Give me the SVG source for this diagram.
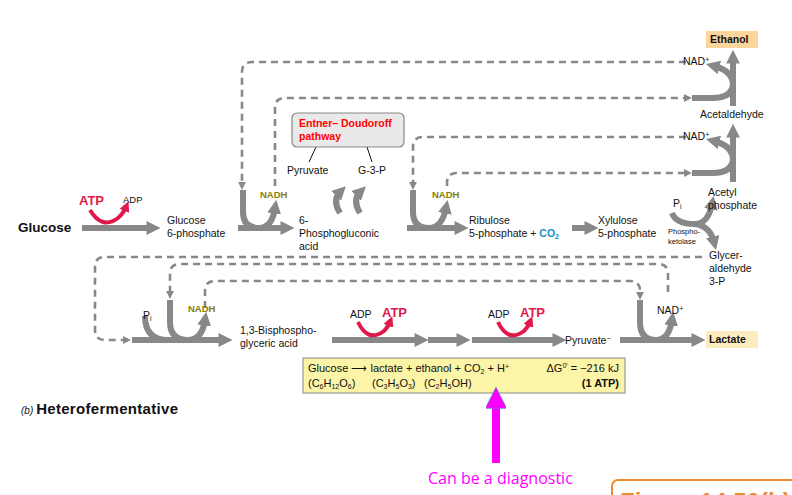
<svg xmlns="http://www.w3.org/2000/svg" width="792" height="495" viewBox="0 0 792 495">
<defs>
<marker id="ah" viewBox="0 0 10 10" refX="4" refY="5" markerWidth="2.3" markerHeight="2.3" orient="auto" markerUnits="strokeWidth"><path d="M0,0 L10,5 L0,10 z" fill="#888"/></marker>
<marker id="dh" viewBox="0 0 10 10" refX="5" refY="5" markerWidth="3" markerHeight="3" orient="auto" markerUnits="strokeWidth"><path d="M0,0 L10,5 L0,10 z" fill="#888"/></marker>
<marker id="rh" viewBox="0 0 10 10" refX="4" refY="5" markerWidth="2.6" markerHeight="2.6" orient="auto" markerUnits="strokeWidth"><path d="M0,0 L10,5 L0,10 z" fill="#e0194a"/></marker>
<marker id="mh" viewBox="0 0 10 10" refX="2" refY="5" markerWidth="3.3" markerHeight="2.6" orient="auto" markerUnits="strokeWidth"><path d="M0,0 L10,5 L0,10 z" fill="#f0f" stroke="#6a6ad8" stroke-width="0.4"/></marker>
</defs>
<style>
text{font-family:"Liberation Sans",Arial,sans-serif;font-size:10.5px;fill:#111}
.b{font-weight:bold}
.th{fill:none;stroke:#888;stroke-width:6;marker-end:url(#ah)}
.tn{fill:none;stroke:#888;stroke-width:6}
.da{fill:none;stroke:#888;stroke-width:2.6;stroke-dasharray:7,5;marker-end:url(#dh)}
.r{fill:none;stroke:#e0194a;stroke-width:4;marker-end:url(#rh)}
.nadh{fill:#8a7d00;font-weight:bold;font-size:9.5px}
.red{fill:#e0194a;font-weight:bold;font-size:13px}
.s{font-size:7px}
</style>
<rect width="792" height="495" fill="#fff"/>
<g id="connectors">
<path class="da" d="M686,62 H252 Q242,62 242,72 V186"/>
<path class="da" d="M275,186 V108 Q275,98 285,98 H688"/>
<path class="da" d="M686,137 H423 Q413,137 413,147 V186"/>
<path class="da" d="M447,186 V183 Q447,173 457,173 H688"/>
<path class="da" d="M702,257 H105 Q95,257 95,267 V330 Q95,340 105,340 H127"/>
<path class="da" d="M668,292 V274 Q668,264 658,264 H180 Q170,264 170,274 V295"/>
<path class="da" d="M205,308 V291 Q205,281 215,281 H630 Q640,281 640,291 V296"/>
<path class="th" d="M82,228 H152"/>
<path class="th" d="M238,228 H286"/>
<path class="th" d="M243,190 V212 Q243,228 259,228 Q272,228 275,208"/>
<path class="th" d="M407,228 H460"/>
<path class="th" d="M413,190 V212 Q413,228 429,228 Q442,228 446,208"/>
<path class="th" d="M572,228 H590"/>
<path class="tn" d="M672,213 Q676,224 695,224"/>
<path class="th" d="M695,224 Q708,224 712,204"/>
<path class="th" d="M695,224 Q710,226 714,242"/>
<path class="th" d="M340,213 Q332,200 340,192"/>
<path class="th" d="M360,213 Q352,200 360,192"/>
<path class="th" d="M733,182 V132"/>
<path class="tn" d="M692,173 H712 Q733,173 733,158"/>
<path class="th" d="M733,160 Q733,146 714,141"/>
<path class="th" d="M733,106 V58"/>
<path class="tn" d="M692,98 H712 Q733,98 733,83"/>
<path class="th" d="M733,85 Q733,71 714,66"/>
<path class="th" d="M132,340 H224"/>
<path class="tn" d="M145,316 Q145,340 168,340"/>
<path class="th" d="M170,300 V322 Q170,340 188,340 Q202,340 205,320"/>
<path class="th" d="M332,340 H420"/>
<path class="th" d="M428,340 H462"/>
<path class="th" d="M472,340 H558"/>
<path class="th" d="M620,340 H697"/>
<path class="th" d="M640,300 V322 Q640,340 656,340 Q669,340 672,320"/>
<path class="r" d="M90,210 Q102,230 118,218 Q123,214 126,207"/>
<path class="r" d="M358,322 Q368,343 384,331 Q388,327 390,322"/>
<path class="r" d="M498,322 Q508,343 524,331 Q528,327 530,322"/>
<path d="M316,147 L309,162 M367,147 L372,162" stroke="#111" stroke-width="1" fill="none"/>
</g>
<g id="ed"><rect x="292" y="113" width="112" height="34" rx="5" fill="#e9e9e9" stroke="#888" stroke-width="1.2"/>
<text x="299" y="127" class="b" style="fill:#f00">Entner– Doudoroff</text>
<text x="299" y="140" class="b" style="fill:#f00">pathway</text></g>
<g id="labels">
<text x="18" y="232" class="b" style="font-size:13.5px">Glucose</text>
<text x="79" y="205" class="red">ATP</text>
<text x="123" y="203" style="font-size:9.5px">ADP</text>
<text x="167" y="224">Glucose</text><text x="167" y="237">6-phosphate</text>
<text x="260" y="198" class="nadh">NADH</text>
<text x="299" y="224">6-</text><text x="299" y="237">Phosphogluconic</text><text x="299" y="250">acid</text>
<text x="287" y="174">Pyruvate</text>
<text x="358" y="174">G-3-P</text>
<text x="432" y="198" class="nadh">NADH</text>
<text x="469" y="224">Ribulose</text><text x="469" y="237">5-phosphate + <tspan style="fill:#1a8fc0;font-weight:bold">CO<tspan class="s" dy="2">2</tspan></tspan></text>
<text x="598" y="224">Xylulose</text><text x="598" y="237">5-phosphate</text>
<text x="673" y="207">P<tspan class="s" dy="2">i</tspan></text>
<text x="668" y="234" style="font-size:7.5px">Phospho-</text><text x="668" y="244" style="font-size:7.5px">ketolase</text>
<text x="708" y="196">Acetyl</text><text x="708" y="209">phosphate</text>
<text x="709" y="259">Glycer-</text><text x="709" y="272">aldehyde</text><text x="709" y="285">3-P</text>
<text x="700" y="118">Acetaldehyde</text>
<text x="683" y="65">NAD<tspan class="s" dy="-3">+</tspan></text>
<text x="683" y="140">NAD<tspan class="s" dy="-3">+</tspan></text>
<text x="143" y="319">P<tspan class="s" dy="2">i</tspan></text>
<text x="188" y="312" class="nadh">NADH</text>
<text x="240" y="334">1,3-Bisphospho-</text><text x="240" y="347">glyceric acid</text>
<text x="350" y="318">ADP</text><text x="382" y="317" class="red">ATP</text>
<text x="488" y="318">ADP</text><text x="520" y="317" class="red">ATP</text>
<text x="565" y="344">Pyruvate<tspan class="s" dy="-3">−</tspan></text>
<text x="657" y="314">NAD<tspan class="s" dy="-3">+</tspan></text>
<text x="21" y="414"><tspan style="font-style:italic;font-size:10px">(b)</tspan> <tspan class="b" style="font-size:15px;letter-spacing:0.3px">Heterofermentative</tspan></text>
</g>
<g id="ethanol"><rect x="706" y="31" width="52" height="17" fill="#fbd59b"/><text x="710" y="43" class="b">Ethanol</text></g>
<g id="lactate"><rect x="706" y="331" width="52" height="17" fill="#fcecc0"/><text x="709" y="343" class="b">Lactate</text></g>
<g id="equation"><rect x="303" y="358" width="322" height="35" fill="#fcf5a8" stroke="#888" stroke-width="1"/>
<text x="308" y="372" style="font-size:11px">Glucose <tspan>⟶</tspan> lactate + ethanol + CO<tspan class="s" dy="2">2</tspan><tspan dy="-2"> + H</tspan><tspan class="s" dy="-3">+</tspan></text>
<text x="619" y="372" text-anchor="end" style="font-size:11px">ΔG<tspan class="s" dy="-4">0′</tspan><tspan dy="4"> = −216 kJ</tspan></text>
<text x="308" y="387" style="font-size:11px">(C<tspan class="s" dy="2">6</tspan><tspan dy="-2">H</tspan><tspan class="s" dy="2">12</tspan><tspan dy="-2">O</tspan><tspan class="s" dy="2">6</tspan><tspan dy="-2">)</tspan></text>
<text x="372" y="387" style="font-size:11px">(C<tspan class="s" dy="2">3</tspan><tspan dy="-2">H</tspan><tspan class="s" dy="2">5</tspan><tspan dy="-2">O</tspan><tspan class="s" dy="2">3</tspan><tspan dy="-2">)</tspan></text>
<text x="424" y="387" style="font-size:11px">(C<tspan class="s" dy="2">2</tspan><tspan dy="-2">H</tspan><tspan class="s" dy="2">5</tspan><tspan dy="-2">OH)</tspan></text>
<text x="619" y="387" class="b" text-anchor="end" style="font-size:11px">(1 ATP)</text></g>
<g id="note">
<path d="M496,463 V404" stroke="#f0f" stroke-width="8" fill="none" marker-end="url(#mh)"/>
<text x="428" y="484" style="font-family:'Open Sans','Liberation Sans',sans-serif;font-size:16px;fill:#f0f">Can be a diagnostic</text>
<rect x="612" y="480" width="200" height="40" rx="6" fill="#fff" stroke="#f08a30" stroke-width="2"/>
<text x="620" y="510" class="b" style="font-size:24px;fill:#f08a30">Figure 14.50(b)</text>
</g>
</svg>
